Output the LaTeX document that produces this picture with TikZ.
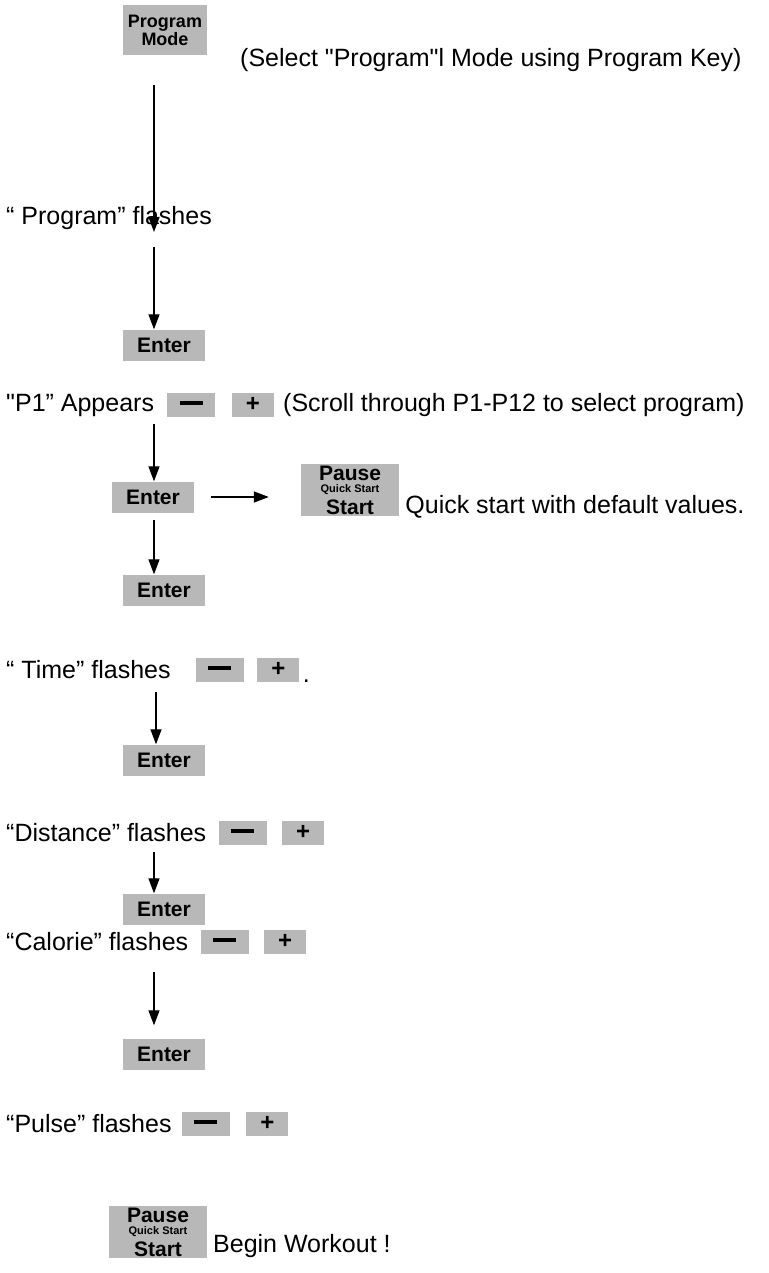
\documentclass[tikz,border=0pt]{standalone}
\usepackage{fontspec}
\setmainfont{Liberation Sans}[Ligatures=TeXOff]
\usetikzlibrary{arrows.meta}
\definecolor{btngray}{gray}{0.72}
\tikzset{
  btn/.style={fill=btngray, draw=none, inner sep=0pt, align=center, font=\bfseries},
  enterbtn/.style={btn, minimum width=82pt, minimum height=31pt, font=\fontsize{21}{21}\selectfont\bfseries},
  minusbtn/.style={btn, anchor=west, minimum width=48pt, minimum height=24pt},
  plusbtn/.style={btn, anchor=west, minimum width=42pt, minimum height=24pt, font=\fontsize{24}{24}\selectfont\bfseries},
  pausebtn/.style={btn, minimum width=98pt, minimum height=52pt, font=\fontsize{21}{16}\selectfont\bfseries},
  lbl/.style={anchor=west, inner sep=0pt, font=\fontsize{25}{29}\selectfont},
  flow/.style={line width=1.3pt, -{Triangle[width=11pt,length=15pt]}}
}
\newcommand{\pausetext}{Pause\\[-4pt]{\fontsize{11}{11}\selectfont Quick Start}\\[4pt]Start}
\newcommand{\minusbar}{\raisebox{4pt}{\rule{23pt}{3.5pt}}}
\newcommand{\plussign}{\raisebox{2pt}{+}}
\begin{document}
\begin{tikzpicture}[x=1pt,y=-1pt]
\useasboundingbox (0,0) rectangle (768,1273);
% Program Mode
\node[btn, minimum width=84pt, minimum height=50pt, font=\fontsize{18}{18}\selectfont\bfseries] (pm) at (165,30) {Program\\Mode};
\node[lbl] (sel) at (240,60) {(Select "Program"l Mode using Program Key)};
\coordinate (a1s) at (154,85);
\node[lbl] (pf) at (6,218) {“ Program” flashes};
\coordinate (a1e) at (154,232);
\draw[flow] (a1s) -- (a1e);
\coordinate (a2s) at (154,247);
\node[enterbtn] (e1) at (164,345) {Enter};
\draw[flow] (a2s) -- (a2s |- e1.north);
% P1
\node[lbl] (p1) at (6,405) {"P1” Appears};
\node[minusbtn] (m1) at ([xshift=13pt]p1.east) {\minusbar};
\node[plusbtn] (pl1) at ([xshift=16pt]m1.east) {\plussign};
\node[lbl] (scr) at ([xshift=9pt]pl1.east) {(Scroll through P1-P12 to select program)};
\coordinate (a3s) at (154,424);
\node[enterbtn] (e2) at (153,497) {Enter};
\draw[flow] (a3s) -- (a3s |- e2.north);
\node[pausebtn] (ps1) at (350,490) {\pausetext};
\draw[flow] ([xshift=17pt]e2.east) -- ([xshift=-32pt]ps1.west |- e2.east);
\node[lbl, anchor=base west] (qs) at ([xshift=6pt]ps1.east |- 0,513) {Quick start with default values.};
\coordinate (a4s) at (154,520);
\node[enterbtn] (e3) at (164,590) {Enter};
\draw[flow] (a4s) -- (a4s |- e3.north);
% Time
\node[lbl] (tf) at (6,670) {“ Time” flashes};
\node[minusbtn] (m2) at ([xshift=25pt]tf.east) {\minusbar};
\node[plusbtn] (pl2) at ([xshift=13pt]m2.east) {\plussign};
\node[lbl, anchor=base west] (dot) at ([xshift=3pt]pl2.south east) {.};
\coordinate (a5s) at (156,692);
\node[enterbtn] (e4) at (164,760) {Enter};
\draw[flow] (a5s) -- (a5s |- e4.north);
% Distance
\node[lbl] (df) at (6,833) {“Distance” flashes};
\node[minusbtn] (m3) at ([xshift=12pt]df.east) {\minusbar};
\node[plusbtn] (pl3) at ([xshift=15pt]m3.east) {\plussign};
\coordinate (a6s) at (154,852);
\node[enterbtn] (e5) at (164,909) {Enter};
\draw[flow] (a6s) -- (a6s |- e5.north);
% Calorie
\node[lbl] (cf) at (6,942) {“Calorie” flashes};
\node[minusbtn] (m4) at ([xshift=12pt]cf.east) {\minusbar};
\node[plusbtn] (pl4) at ([xshift=15pt]m4.east) {\plussign};
\coordinate (a7s) at (154,972);
\node[enterbtn] (e6) at (164,1054) {Enter};
\draw[flow] (a7s) -- ([yshift=13pt]a7s |- e6.north);
% Pulse
\node[lbl] (puf) at (6,1124) {“Pulse” flashes};
\node[minusbtn] (m5) at ([xshift=10pt]puf.east) {\minusbar};
\node[plusbtn] (pl5) at ([xshift=16pt]m5.east) {\plussign};
\node[pausebtn] (ps2) at (158,1232) {\pausetext};
\node[lbl, anchor=base west] (bw) at (213,1252) {Begin Workout !};
\end{tikzpicture}
\end{document}
